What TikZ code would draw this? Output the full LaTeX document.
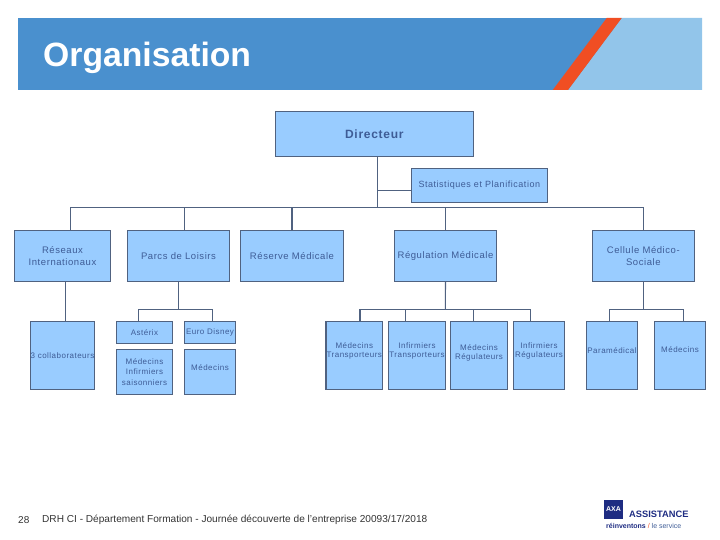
\documentclass[tikz,border=0pt]{standalone}
\usepackage{fontspec}
\setmainfont{Liberation Sans}
\newfontfamily\spaced[LetterSpace=6]{Liberation Sans}
\usetikzlibrary{positioning}
\definecolor{headdark}{RGB}{74,144,206}
\definecolor{headlight}{RGB}{146,197,234}
\definecolor{headred}{RGB}{240,78,35}
\definecolor{boxfill}{RGB}{153,204,255}
\definecolor{boxline}{RGB}{80,98,128}
\definecolor{boxtext}{RGB}{62,92,150}
\definecolor{axablue}{RGB}{30,44,130}
\newcommand{\lifted}[2]{\raisebox{#1}{\shortstack{#2}}}
\tikzset{
    orgbox/.style={draw=boxline, fill=boxfill, text=boxtext, line width=1.1pt, inner sep=0pt, align=center},
    bigbox/.style={orgbox, font=\spaced\fontsize{9.5}{12}\selectfont},
    smallbox/.style={orgbox, font=\spaced\fontsize{8}{10.5}\selectfont},
    wire/.style={draw=boxline, line width=1.1pt}
}

\begin{document}
\begin{tikzpicture}[x=1pt, y=-1pt]
    \useasboundingbox (0,0) rectangle (720,540);
    % header band
    \fill[headdark] (18,18) rectangle (702,90);
    \fill[headlight] (621.7,18) -- (702,18) -- (702,90) -- (568,90) -- cycle;
    \fill[headred] (606.7,18) -- (621.7,18) -- (568,90) -- (552.7,90) -- cycle;
    \node[text=white, font=\bfseries\fontsize{33.7}{36}\selectfont, anchor=west, inner sep=0pt] (title) at (43,58) {Organisation};

    % top of the chart
    \node[orgbox, minimum width=198pt, minimum height=44.6pt, font=\spaced\bfseries\fontsize{12}{14}\selectfont] (dir) at (374.3,134) {Directeur};
    \node[orgbox, minimum width=136pt, minimum height=34pt, font=\spaced\fontsize{9}{11}\selectfont] (stat) at (479.3,185.3) {Statistiques et Planification};

    % second row
    \node[bigbox, minimum width=96.4pt, minimum height=51pt] (res) at (62.5,255.8) {Réseaux\\Internationaux};
    \node[bigbox, minimum width=102.4pt, minimum height=51pt] (parcs) at (178.5,255.8) {Parcs de Loisirs};
    \node[bigbox, minimum width=103.4pt, minimum height=51pt] (reserve) at (292,255.8) {Réserve Médicale};
    \node[bigbox, minimum width=102.4pt, minimum height=51pt] (regul) at (445.5,255.8) {Régulation Médicale};
    \node[bigbox, minimum width=102pt, minimum height=51pt] (cell) at (643.3,255.8) {Cellule Médico-\\Sociale};

    % third row
    \node[smallbox, minimum width=62.4pt, minimum height=68pt] (collab) at (62.5,355.3) {3 collaborateurs};
    \node[smallbox, minimum width=56.4pt, minimum height=22pt] (asterix) at (144.5,332.3) {Astérix};
    \node[smallbox, minimum width=51.4pt, minimum height=22pt] (disney) at (210,332.3) {Euro Disney};
    \node[smallbox, minimum width=56.4pt, minimum height=45pt] (saison) at (144.5,371.8) {Médecins\\Infirmiers\\saisonniers};
    \node[smallbox, minimum width=51.4pt, minimum height=45pt] (medparc) at (210,371.8) {\lifted{9pt}{Médecins}};
    \node[smallbox, minimum width=56.7pt, minimum height=68pt] (medtrans) at (354.3,355.3) {\lifted{10pt}{Médecins\\Transporteurs}};
    \node[smallbox, minimum width=57.4pt, minimum height=68pt] (inftrans) at (417,355.3) {\lifted{10pt}{Infirmiers\\Transporteurs}};
    \node[smallbox, minimum width=57.4pt, minimum height=68pt] (medreg) at (479,355.3) {\lifted{7pt}{Médecins\\Régulateurs}};
    \node[smallbox, minimum width=51.4pt, minimum height=68pt] (infreg) at (539,355.3) {\lifted{10pt}{Infirmiers\\Régulateurs}};
    \node[smallbox, minimum width=51.4pt, minimum height=68pt] (param) at (612,355.3) {\lifted{10pt}{Paramédical}};
    \node[smallbox, minimum width=51.4pt, minimum height=68pt] (medcell) at (680,355.3) {\lifted{12pt}{Médecins}};

    % junctions
    \coordinate (trunk) at (377.3,207.3);
    \coordinate (busres) at (70.7,207.3);
    \coordinate (buscell) at (643.3,207.3);
    \coordinate (parcsbus) at (178.3,309.3);
    \coordinate (regulbus) at (445.3,309.3);
    \coordinate (cellbus) at (643.3,309.3);
    \coordinate (dropres) at (65.3,281.3);
    \coordinate (dropast) at (138.3,321.3);
    \coordinate (dropdis) at (212.3,321.3);
    \coordinate (dropmt) at (360,321.3);
    \coordinate (dropit) at (405.3,321.3);
    \coordinate (dropmr) at (473.3,321.3);
    \coordinate (dropir) at (530.3,321.3);
    \coordinate (droppa) at (609.3,321.3);
    \coordinate (dropme) at (683.3,321.3);

    % connectors
    \draw[wire] (dir.south -| trunk) -- (trunk);
    \draw[wire] (trunk |- 0,190.3) -- (stat.west |- 0,190.3);
    \draw[wire] (busres) -- (buscell);
    \draw[wire] (busres) -- (busres |- res.north);
    \draw[wire] (parcs.north -| 184.3,0) -- (trunk -| 184.3,0);
    \draw[wire] (trunk -| reserve.north) -- (reserve.north);
    \draw[wire] (trunk -| regul.north) -- (regul.north);
    \draw[wire] (buscell) -- (cell.north);
    \draw[wire] (dropres) -- (dropres |- collab.north);
    \draw[wire] (parcsbus |- parcs.south) -- (parcsbus);
    \draw[wire] (dropast) -- (dropast |- parcsbus) -- (dropdis |- parcsbus) -- (dropdis);
    \draw[wire] (regul.south) -- (regulbus);
    \draw[wire] (dropmt) -- (dropmt |- regulbus) -- (dropir |- regulbus) -- (dropir);
    \draw[wire] (dropit) -- (dropit |- regulbus);
    \draw[wire] (dropmr) -- (dropmr |- regulbus);
    \draw[wire] (cell.south) -- (cellbus);
    \draw[wire] (droppa) -- (droppa |- cellbus) -- (dropme |- cellbus) -- (dropme);

    % footer
    \node[font=\fontsize{10}{12}\selectfont, text=black!80, anchor=west, inner sep=0pt] (page) at (18,520) {28};
    \node[font=\fontsize{10.1}{12}\selectfont, text=black!80, anchor=west, inner sep=0pt] (foot) at (42,520) {DRH CI - Département Formation - Journée découverte de l'entreprise 20093/17/2018};

    % logo
    \node[fill=axablue, text=white, font=\bfseries\fontsize{7}{8}\selectfont, minimum width=19pt, minimum height=19pt, inner sep=0pt] (axa) at (613.5,509.5) {AXA};
    \node[text=axablue, font=\bfseries\fontsize{9.3}{11}\selectfont, anchor=west, inner sep=0pt] (assist) at (629,514) {ASSISTANCE};
    \node[font=\fontsize{7}{8}\selectfont, anchor=west, inner sep=0pt] (slogan) at (606,526) {\textcolor{axablue}{\textbf{réinventons}} \textcolor{headred}{/} \textcolor{boxtext}{le service}};
\end{tikzpicture}
\end{document}
